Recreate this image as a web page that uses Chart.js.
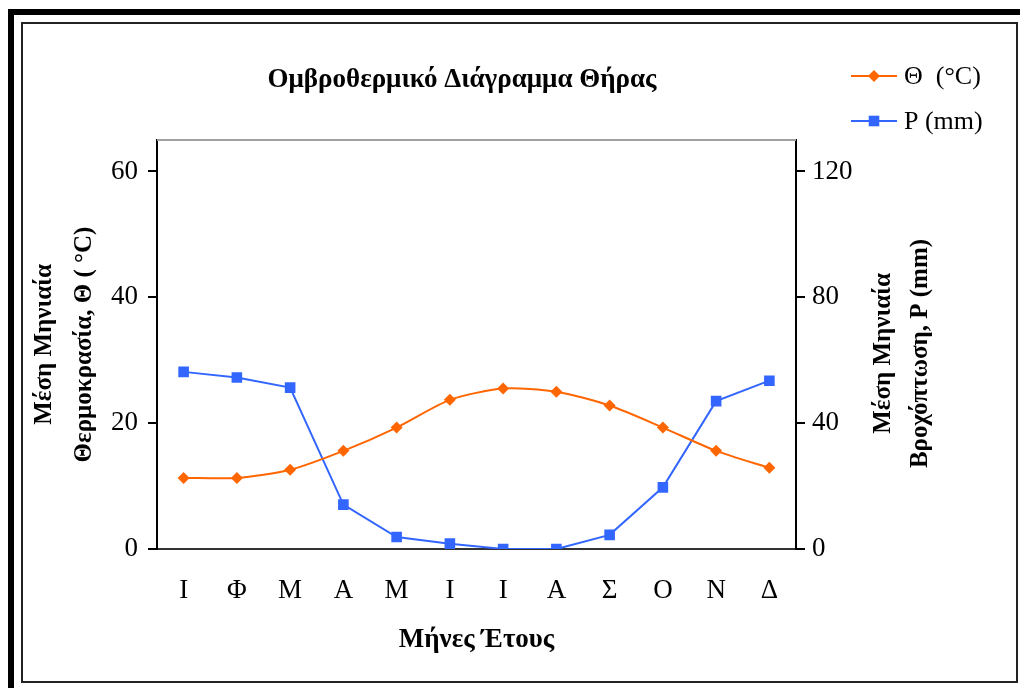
<!DOCTYPE html>
<html>
<head>
<meta charset="utf-8">
<script src="https://cdn.jsdelivr.net/npm/chart.js@4/dist/chart.umd.min.js"></script>
<style>
  html, body { margin: 0; padding: 0; background: #fff; }
  #wrap { width: 1020px; height: 688px; }
</style>
</head>
<body>
<div id="wrap"><canvas id="ombroChart" width="1020" height="688"></canvas></div>
<script>
const months = ['Ι', 'Φ', 'Μ', 'Α', 'Μ', 'Ι', 'Ι', 'Α', 'Σ', 'Ο', 'Ν', 'Δ'];
const temperature = [11.3, 11.3, 12.6, 15.6, 19.3, 23.7, 25.5, 25.0, 22.8, 19.3, 15.6, 12.9];
const precipitation = [56.3, 54.5, 51.3, 14.1, 3.8, 1.7, 0, 0, 4.5, 19.6, 47.0, 53.5];
const tempTicks = [0, 20, 40, 60];
const rainTicks = [0, 40, 80, 120];
const tempAxisTitle = ['Μέση Μηνιαία', 'Θερμοκρασία, Θ ( °C)'];
const rainAxisTitle = ['Μέση Μηνιαία', 'Βροχόπτωση, P (mm)'];

const SERIF = '"Liberation Serif", "Times New Roman", serif';

// white page, the thick black L-shaped frame and the thin inner box
const framePlugin = {
  id: 'frame',
  beforeDraw(chart) {
    const { ctx, width, height } = chart;
    ctx.save();
    ctx.fillStyle = '#fff';
    ctx.fillRect(0, 0, width, height);
    ctx.fillStyle = '#000';
    ctx.fillRect(8, 9, width - 8, 6);
    ctx.fillRect(8, 9, 6, height - 9);
    ctx.strokeStyle = '#222';
    ctx.lineWidth = 2;
    ctx.strokeRect(22, 23, 995, 659);
    ctx.restore();
  },
  beforeDatasetsDraw(chart) {
    const { ctx, chartArea } = chart;
    ctx.save();
    ctx.strokeStyle = '#a0a0a0';
    ctx.lineWidth = 2;
    ctx.beginPath();
    ctx.moveTo(chartArea.left, chartArea.top);
    ctx.lineTo(chartArea.right, chartArea.top);
    ctx.stroke();
    ctx.restore();
  },
};

// Chart.js puts a right-hand title at +90deg; the original reads bottom to top
const rightTitlePlugin = {
  id: 'rightTitle',
  afterDraw(chart) {
    const { ctx, chartArea } = chart;
    ctx.save();
    ctx.translate(884, (chartArea.top + chartArea.bottom) / 2 + 9);
    ctx.rotate(-Math.PI / 2);
    ctx.font = 'bold 25px ' + SERIF;
    ctx.fillStyle = '#000';
    ctx.textAlign = 'center';
    ctx.textBaseline = 'middle';
    rainAxisTitle.forEach((line, i) => ctx.fillText(line, 0, i * 37));
    ctx.restore();
  },
};

const sideLegendPlugin = {
  id: 'sideLegend',
  afterDraw(chart) {
    const ctx = chart.ctx;
    chart.data.datasets.forEach((ds, i) => {
      const y = 76 + i * 45;
      ctx.save();
      ctx.strokeStyle = ds.borderColor;
      ctx.lineWidth = 2;
      ctx.beginPath();
      ctx.moveTo(851, y);
      ctx.lineTo(897, y);
      ctx.stroke();
      ctx.fillStyle = ds.pointBackgroundColor;
      ctx.strokeStyle = ds.pointBackgroundColor;
      Chart.helpers.drawPoint(ctx, { pointStyle: ds.pointStyle, radius: ds.pointRadius, rotation: 0, borderWidth: 0 }, 874, y);
      ctx.fillStyle = '#000';
      ctx.font = '26px ' + SERIF;
      ctx.textAlign = 'left';
      ctx.textBaseline = 'middle';
      ctx.fillText(ds.label, 904, y + 1);
      ctx.restore();
    });
  },
};

const ctxOmbro = document.getElementById('ombroChart').getContext('2d');

new Chart(ctxOmbro, {
  type: 'line',
  data: {
    labels: months,
    datasets: [
      {
        label: 'Θ  (°C)',
        data: temperature,
        yAxisID: 'yTemp',
        borderColor: '#ff6600',
        backgroundColor: '#ff6600',
        pointBackgroundColor: '#ff6600',
        pointBorderWidth: 0,
        pointStyle: 'rectRot',
        pointRadius: 6,
        borderWidth: 2,
        tension: 0.25,
      },
      {
        label: 'P (mm)',
        data: precipitation,
        yAxisID: 'yRain',
        borderColor: '#3366ff',
        backgroundColor: '#3366ff',
        pointBackgroundColor: '#3366ff',
        pointBorderWidth: 0,
        pointStyle: 'rect',
        pointRadius: 7.5,
        borderWidth: 2,
        tension: 0,
      },
    ],
  },
  options: {
    responsive: false,
    animation: false,
    layout: { padding: { left: 0, right: 96, top: 0, bottom: 0 } },
    plugins: {
      legend: { display: false },
      tooltip: { enabled: false },
      title: {
        display: true,
        text: 'Ομβροθερμικό Διάγραμμα Θήρας',
        color: '#000',
        font: { family: SERIF, size: 27, weight: 'bold', lineHeight: 1.2 },
        padding: { top: 64, bottom: 43.6 },
      },
    },
    scales: {
      x: {
        offset: true,
        grid: { display: false },
        border: { display: true, color: '#333', width: 2 },
        ticks: { color: '#000', font: { family: SERIF, size: 27 }, padding: 18, maxRotation: 0, autoSkip: false },
        title: {
          display: true,
          text: 'Μήνες Έτους',
          color: '#000',
          font: { family: SERIF, size: 27, weight: 'bold', lineHeight: 1.2 },
          padding: { top: 0, bottom: 32 },
        },
        afterFit(scale) { scale.height = 139; },
      },
      yTemp: {
        position: 'left',
        min: 0,
        max: 65,
        grid: { drawOnChartArea: false, drawTicks: true, tickLength: 9, color: '#000', lineWidth: 2 },
        border: { display: true, color: '#000', width: 2 },
        ticks: { color: '#000', font: { family: SERIF, size: 27 }, padding: 10 },
        title: {
          display: true,
          text: tempAxisTitle,
          color: '#000',
          font: { family: SERIF, size: 25, weight: 'bold', lineHeight: 1.6 },
          padding: { top: 25, bottom: 0 },
        },
        afterBuildTicks(scale) { scale.ticks = tempTicks.map(v => ({ value: v })); },
        afterFit(scale) { scale.width = 157; },
      },
      yRain: {
        position: 'right',
        min: 0,
        max: 130,
        grid: { drawOnChartArea: false, drawTicks: true, tickLength: 9, color: '#000', lineWidth: 2 },
        border: { display: true, color: '#000', width: 2 },
        ticks: { color: '#000', font: { family: SERIF, size: 27 }, padding: 7 },
        afterBuildTicks(scale) { scale.ticks = rainTicks.map(v => ({ value: v })); },
        afterFit(scale) { scale.width = 128; },
      },
    },
  },
  plugins: [framePlugin, rightTitlePlugin, sideLegendPlugin],
});
</script>
</body>
</html>
